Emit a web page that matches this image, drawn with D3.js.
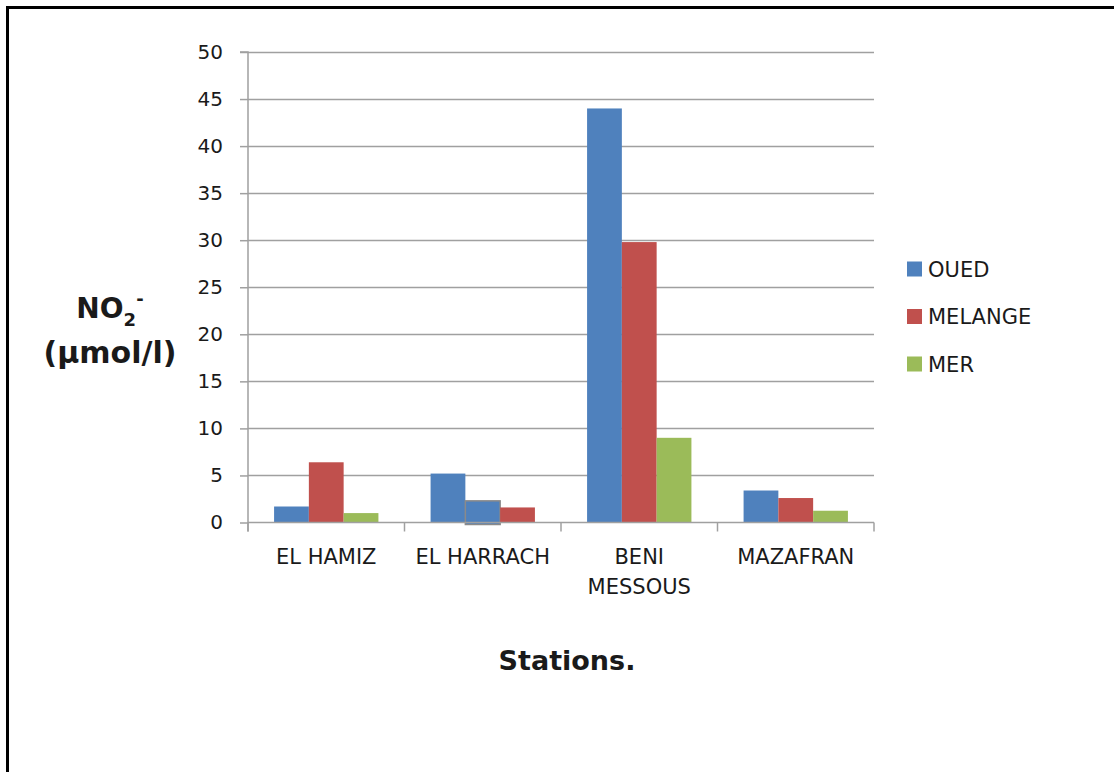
<!DOCTYPE html>
<html><head><meta charset="utf-8">
<script src="https://cdn.jsdelivr.net/npm/d3@7"></script>
<style>
html,body{margin:0;padding:0;background:#fff;}
svg{display:block;}
text{font-family:"DejaVu Sans",sans-serif;fill:#1a1a1a;}
</style></head>
<body>
<script>
const categories = ["EL HAMIZ", "EL HARRACH", "BENI MESSOUS", "MAZAFRAN"];
const categoryLines = [["EL HAMIZ"], ["EL HARRACH"], ["BENI", "MESSOUS"], ["MAZAFRAN"]];
const seriesNames = ["OUED", "MELANGE", "MER"];
const oued = [1.7, 5.2, 44.0, 3.4];
const melange = [6.4, 2.3, 29.8, 2.6];
const mer = [1.0, 1.6, 9.0, 1.25];
const yTicks = [0, 5, 10, 15, 20, 25, 30, 35, 40, 45, 50];
const seriesValues = [oued, melange, mer];

const colors = {OUED: "#4F81BD", MELANGE: "#C0504D", MER: "#9BBB59"};
// fill overrides seen in the picture for EL HARRACH
const overrideFill = {"EL HARRACH|MELANGE": "#4F81BD", "EL HARRACH|MER": "#C0504D"};
const overrideStroke = {"EL HARRACH|MELANGE": "#8a8a8a"};

const W = 1114, H = 772;
const svg = d3.select("body").append("svg").attr("width", W).attr("height", H);

// frame (left and top only visible)
svg.append("line").attr("x1", 7.5).attr("x2", 7.5).attr("y1", 6).attr("y2", H).attr("stroke", "#000").attr("stroke-width", 3);
svg.append("line").attr("x1", 6).attr("x2", W).attr("y1", 7.5).attr("y2", 7.5).attr("stroke", "#000").attr("stroke-width", 3);

const x0 = 248, x1 = 874, yTop = 52, yBot = 522.5;
const x = d3.scaleBand().domain(categories).range([x0, x1]).paddingInner(0).paddingOuter(0);
const y = d3.scaleLinear().domain([0, 50]).range([yBot, yTop]);
// bar width w with gap 1.5w total => 4.5w = band
const bw = x.bandwidth() / 4.5;
const xInner = d3.scaleBand().domain(seriesNames).range([0.75 * bw, 3.75 * bw]).padding(0);

// gridlines
svg.append("g").selectAll("line").data(yTicks.filter(d => d > 0)).join("line")
  .attr("x1", x0).attr("x2", x1).attr("y1", d => Math.round(y(d)) + 0.5).attr("y2", d => Math.round(y(d)) + 0.5)
  .attr("stroke", "#a0a0a0").attr("stroke-width", 1.5);

// y axis
const yAxis = d3.axisLeft(y).tickValues(yTicks).tickSize(8).tickPadding(17).tickFormat(d3.format("d"));
const gy = svg.append("g").attr("transform", `translate(${x0},0)`).call(yAxis);
gy.select(".domain").attr("stroke", "#a0a0a0").attr("stroke-width", 1.5).attr("d", `M-8,${yTop}H0V${yBot + 9}`);
gy.selectAll(".tick line").attr("stroke", "#a0a0a0").attr("stroke-width", 1.5);
gy.selectAll(".tick text").attr("font-size", 20).attr("font-family", "DejaVu Sans").attr("fill", "#1a1a1a");

// bars
const gBars = svg.append("g");
categories.forEach((c, ci) => {
  seriesNames.forEach((s, si) => {
    const v = seriesValues[si][ci];
    const key = c + "|" + s;
    const stroke = overrideStroke[key];
    gBars.append("rect")
      .attr("x", x(c) + xInner(s))
      .attr("y", y(v))
      .attr("width", xInner.bandwidth())
      .attr("height", y(0) - y(v) + (stroke ? 2 : 0))
      .attr("fill", overrideFill[key] || colors[s])
      .attr("stroke", stroke || "none")
      .attr("stroke-width", stroke ? 1.5 : 0);
  });
});

// x axis
const xAxis = d3.axisBottom(x).tickSize(0).tickFormat("");
const gx = svg.append("g").attr("transform", `translate(0,${yBot})`).call(xAxis);
gx.select(".domain").attr("stroke", "#a0a0a0").attr("stroke-width", 1.5).attr("d", `M${x0},0H${x1}`);
gx.selectAll(".tick").remove();
// category boundary ticks
const bounds = categories.map(c => x(c)).concat([x1]);
svg.append("g").selectAll("line").data(bounds).join("line")
  .attr("x1", d => d).attr("x2", d => d).attr("y1", yBot).attr("y2", yBot + 9)
  .attr("stroke", "#a0a0a0").attr("stroke-width", 1.5);

// category labels
const gl = svg.append("g");
categories.forEach((c, ci) => {
  const t = gl.append("text").attr("x", x(c) + x.bandwidth() / 2).attr("y", 564)
    .attr("text-anchor", "middle").attr("font-size", 21);
  categoryLines[ci].forEach((ln, li) => {
    t.append("tspan").attr("x", x(c) + x.bandwidth() / 2).attr("dy", li === 0 ? 0 : 30).text(ln);
  });
});

// y title
const yt = svg.append("text").attr("x", 110).attr("y", 318).attr("text-anchor", "middle")
  .attr("font-size", 28).attr("font-weight", "bold");
yt.append("tspan").text("NO");
yt.append("tspan").attr("font-size", 18).attr("dy", 8).text("2");
yt.append("tspan").attr("font-size", 18).attr("dy", -21).text("-");
svg.append("text").attr("x", 110).attr("y", 363).attr("text-anchor", "middle")
  .attr("font-size", 30).attr("font-weight", "bold").text("(µmol/l)");

// x title
svg.append("text").attr("x", 567).attr("y", 670).attr("text-anchor", "middle")
  .attr("font-size", 27).attr("font-weight", "bold").text("Stations.");

// legend
const legY = d3.scalePoint().domain(seriesNames).range([269, 364]);
const lg = svg.append("g");
seriesNames.forEach(s => {
  lg.append("rect").attr("x", 907).attr("y", legY(s) - 7.5).attr("width", 15).attr("height", 15).attr("fill", colors[s]);
  lg.append("text").attr("x", 928).attr("y", legY(s)).attr("dy", "0.36em").attr("font-size", 21).text(s);
});
</script>
</body></html>
